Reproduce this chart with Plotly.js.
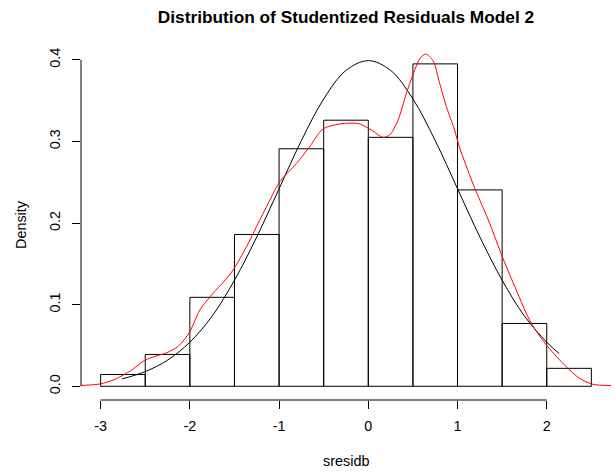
<!DOCTYPE html>
<html>
<head>
<meta charset="utf-8">
<script src="https://cdn.plot.ly/plotly-3.0.1.min.js"></script>
<style>
  html, body { margin: 0; padding: 0; background: #ffffff; }
  #chart { width: 615px; height: 474px; }
</style>
</head>
<body>
<div id="chart"></div>
<script>
// Histogram of studentized residuals (density scale), bin edges every 0.5
const binEdges = [-3, -2.5, -2, -1.5, -1, -0.5, 0, 0.5, 1, 1.5, 2, 2.5];
const binDensity = [0.0144, 0.039, 0.109, 0.186, 0.291, 0.326, 0.305, 0.395, 0.2406, 0.077, 0.022];

// Fitted normal curve over the range of the residuals
const normX = [-2.76, -2.5, -2.25, -2.0, -1.75, -1.5, -1.25, -1.0, -0.75, -0.5, -0.25, 0,
               0.25, 0.5, 0.75, 1.0, 1.25, 1.5, 1.75, 2.0, 2.14];
const normY = [0.009, 0.018, 0.032, 0.054, 0.086, 0.130, 0.183, 0.242, 0.301, 0.352, 0.387, 0.399,
               0.387, 0.352, 0.301, 0.242, 0.183, 0.130, 0.086, 0.054, 0.040];

// Kernel density estimate of the residuals
const kdeX = [-3.224, -3.12, -3.0, -2.85, -2.747, -2.65, -2.504, -2.38, -2.261, -2.13, -2.0,
              -1.888, -1.739, -1.62, -1.515, -1.365, -1.253, -1.104, -0.992, -0.805, -0.656,
              -0.507, -0.32, -0.17, -0.096, 0.035, 0.165, 0.24, 0.333, 0.427, 0.52, 0.58,
              0.643, 0.725, 0.80, 0.875, 0.967, 1.02, 1.17, 1.36, 1.508, 1.658, 1.826, 2.012,
              2.218, 2.367, 2.516, 2.72];
const kdeY = [0.001, 0.0016, 0.003, 0.008, 0.0138, 0.020, 0.032, 0.037, 0.041, 0.049, 0.067,
              0.0935, 0.114, 0.128, 0.1425, 0.171, 0.1956, 0.228, 0.2507, 0.273, 0.2937,
              0.3153, 0.3214, 0.3225, 0.3214, 0.314, 0.305, 0.308, 0.326, 0.359, 0.3876, 0.402,
              0.407, 0.399, 0.371, 0.3426, 0.314, 0.2936, 0.249, 0.1997, 0.157, 0.118, 0.0772, 0.0485,
              0.024, 0.0098, 0.0025, 0.001];

const xTicks = [-3, -2, -1, 0, 1, 2];
const xTickText = ['-3', '-2', '-1', '0', '1', '2'];
const yTicks = [0, 0.1, 0.2, 0.3, 0.4];
const yTickText = ['0.0', '0.1', '0.2', '0.3', '0.4'];

const binCenters = binDensity.map((_, i) => (binEdges[i] + binEdges[i + 1]) / 2);
const binWidths = binDensity.map((_, i) => binEdges[i + 1] - binEdges[i]);

const FONT = 'Liberation Sans, Arial, sans-serif';

const traces = [
  {
    type: 'bar',
    x: binCenters,
    y: binDensity,
    width: binWidths,
    marker: { color: 'rgba(255,255,255,0)', line: { color: '#000000', width: 1 } },
    hoverinfo: 'skip'
  },
  {
    type: 'scatter',
    mode: 'lines',
    x: normX,
    y: normY,
    line: { color: '#000000', width: 1, shape: 'spline', smoothing: 1 },
    hoverinfo: 'skip'
  },
  {
    type: 'scatter',
    mode: 'lines',
    x: kdeX,
    y: kdeY,
    line: { color: '#ff0000', width: 1, shape: 'spline', smoothing: 0.8 },
    hoverinfo: 'skip'
  }
];

const layout = {
  width: 615,
  height: 474,
  paper_bgcolor: '#ffffff',
  plot_bgcolor: '#ffffff',
  showlegend: false,
  margin: { l: 81, r: 4, t: 50, b: 74, pad: 0 },
  font: { family: FONT, size: 14.4, color: '#000000' },
  title: {
    text: '<b>Distribution of Studentized Residuals Model 2</b>',
    font: { family: FONT, size: 17.3, color: '#000000' },
    x: 0.5, xref: 'paper',
    y: 1 - 17 / 474, yref: 'container', yanchor: 'middle'
  },
  xaxis: {
    range: [-3.22, 2.72],
    showgrid: false, zeroline: false, showline: false,
    ticks: 'outside', ticklen: 8, tickwidth: 1, tickcolor: '#000000',
    ticklabelstandoff: 5,
    tickmode: 'array', tickvals: xTicks, ticktext: xTickText,
    tickfont: { family: FONT, size: 14.4, color: '#000000' },
    fixedrange: true
  },
  yaxis: {
    range: [-0.0168, 0.412],
    showgrid: false, zeroline: false, showline: false,
    ticks: 'outside', ticklen: 8, tickwidth: 1, tickcolor: '#000000',
    ticklabelstandoff: 6,
    tickmode: 'array', tickvals: yTicks, ticktext: yTickText,
    tickangle: -90,
    tickfont: { family: FONT, size: 14.4, color: '#000000' },
    fixedrange: true
  },
  shapes: [
    // axis lines spanning only the labelled tick range
    { type: 'line', xref: 'x', yref: 'paper', x0: xTicks[0], x1: xTicks[xTicks.length - 1], y0: 0, y1: 0,
      line: { color: '#000000', width: 1 } },
    { type: 'line', xref: 'paper', yref: 'y', x0: 0, x1: 0, y0: yTicks[0], y1: yTicks[yTicks.length - 1],
      line: { color: '#000000', width: 1 } }
  ],
  annotations: [
    { text: 'sresidb', xref: 'paper', yref: 'paper', x: 0.5, y: 0, yshift: -61,
      xanchor: 'center', yanchor: 'middle', showarrow: false,
      font: { family: FONT, size: 14.4, color: '#000000' } },
    { text: 'Density', xref: 'paper', yref: 'paper', x: 0, xshift: -60, y: 0.5,
      xanchor: 'center', yanchor: 'middle', textangle: -90, showarrow: false,
      font: { family: FONT, size: 14.4, color: '#000000' } }
  ]
};

Plotly.newPlot('chart', traces, layout, { displayModeBar: false, staticPlot: true });
</script>
</body>
</html>
